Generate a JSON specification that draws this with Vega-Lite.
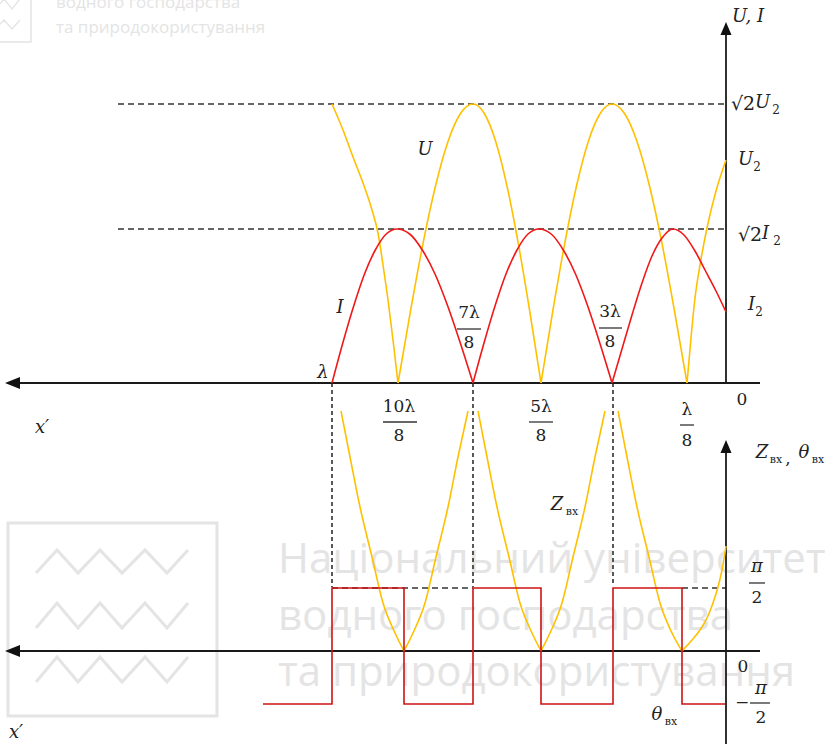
{
  "$schema": "https://vega.github.io/schema/vega-lite/v6.json",
  "autosize": {"type": "none"},
  "padding": 0,
  "width": 829,
  "height": 744,
  "background": "white",
  "config": {"view": {"stroke": null}},
  "resolve": {"scale": {"y": "independent"}},
  "datasets": {
    "voltage": [
      {"seg": "a0", "x": 394, "y": 279}, {"seg": "a0", "x": 383, "y": 253}, {"seg": "a0", "x": 373, "y": 226},
      {"seg": "a0", "x": 363, "y": 200}, {"seg": "a0", "x": 354, "y": 173}, {"seg": "a0", "x": 348, "y": 150},
      {"seg": "a0", "x": 343, "y": 118}, {"seg": "a0", "x": 338, "y": 83}, {"seg": "a0", "x": 333, "y": 43},
      {"seg": "a0", "x": 328, "y": 0},
      {"seg": "a1", "x": 328, "y": 0}, {"seg": "a1", "x": 315.5, "y": 72}, {"seg": "a1", "x": 303, "y": 139.5},
      {"seg": "a1", "x": 290.5, "y": 197}, {"seg": "a1", "x": 278, "y": 241.6}, {"seg": "a1", "x": 265.5, "y": 269.5},
      {"seg": "a1", "x": 253, "y": 279}, {"seg": "a1", "x": 241.7, "y": 269.5}, {"seg": "a1", "x": 230.3, "y": 241.6},
      {"seg": "a1", "x": 219, "y": 197}, {"seg": "a1", "x": 207.7, "y": 139.5}, {"seg": "a1", "x": 196.3, "y": 72},
      {"seg": "a1", "x": 185, "y": 0},
      {"seg": "a2", "x": 185, "y": 0}, {"seg": "a2", "x": 173.2, "y": 72}, {"seg": "a2", "x": 161.3, "y": 139.5},
      {"seg": "a2", "x": 149.5, "y": 197}, {"seg": "a2", "x": 137.7, "y": 241.6}, {"seg": "a2", "x": 125.8, "y": 269.5},
      {"seg": "a2", "x": 114, "y": 279}, {"seg": "a2", "x": 101.5, "y": 269.5}, {"seg": "a2", "x": 89, "y": 241.6},
      {"seg": "a2", "x": 76.5, "y": 197}, {"seg": "a2", "x": 64, "y": 139.5}, {"seg": "a2", "x": 51.5, "y": 72},
      {"seg": "a2", "x": 39, "y": 0},
      {"seg": "a3", "x": 39, "y": 0}, {"seg": "a3", "x": 35, "y": 45}, {"seg": "a3", "x": 31, "y": 85},
      {"seg": "a3", "x": 26, "y": 118}, {"seg": "a3", "x": 19, "y": 155}, {"seg": "a3", "x": 10, "y": 192},
      {"seg": "a3", "x": 0, "y": 223}
    ],
    "current": [
      {"seg": "i1", "x": 394, "y": 0}, {"seg": "i1", "x": 383.2, "y": 40}, {"seg": "i1", "x": 372.3, "y": 77},
      {"seg": "i1", "x": 361.5, "y": 109}, {"seg": "i1", "x": 350.7, "y": 133}, {"seg": "i1", "x": 339.8, "y": 149},
      {"seg": "i1", "x": 329, "y": 154}, {"seg": "i1", "x": 316.3, "y": 149}, {"seg": "i1", "x": 303.7, "y": 133},
      {"seg": "i1", "x": 291, "y": 109}, {"seg": "i1", "x": 278.3, "y": 77}, {"seg": "i1", "x": 265.7, "y": 40},
      {"seg": "i1", "x": 253, "y": 0},
      {"seg": "i2", "x": 253, "y": 0}, {"seg": "i2", "x": 242, "y": 40}, {"seg": "i2", "x": 231, "y": 77},
      {"seg": "i2", "x": 220, "y": 109}, {"seg": "i2", "x": 209, "y": 133}, {"seg": "i2", "x": 198, "y": 149},
      {"seg": "i2", "x": 187, "y": 154}, {"seg": "i2", "x": 174.8, "y": 149}, {"seg": "i2", "x": 162.7, "y": 133},
      {"seg": "i2", "x": 150.5, "y": 109}, {"seg": "i2", "x": 138.3, "y": 77}, {"seg": "i2", "x": 126.2, "y": 40},
      {"seg": "i2", "x": 114, "y": 0},
      {"seg": "i3", "x": 114, "y": 0}, {"seg": "i3", "x": 104, "y": 34}, {"seg": "i3", "x": 94, "y": 68},
      {"seg": "i3", "x": 84, "y": 100}, {"seg": "i3", "x": 74, "y": 127}, {"seg": "i3", "x": 64, "y": 145},
      {"seg": "i3", "x": 53, "y": 154}, {"seg": "i3", "x": 42, "y": 148}, {"seg": "i3", "x": 31, "y": 132},
      {"seg": "i3", "x": 21, "y": 113}, {"seg": "i3", "x": 10, "y": 92}, {"seg": "i3", "x": 0, "y": 71}
    ],
    "impedance": [
      {"seg": "z1l", "x": 385, "y": 240}, {"seg": "z1l", "x": 376, "y": 194}, {"seg": "z1l", "x": 366, "y": 144},
      {"seg": "z1l", "x": 354, "y": 94}, {"seg": "z1l", "x": 343, "y": 48}, {"seg": "z1l", "x": 331, "y": 18},
      {"seg": "z1l", "x": 322, "y": 0},
      {"seg": "z1r", "x": 322, "y": 0}, {"seg": "z1r", "x": 313, "y": 18}, {"seg": "z1r", "x": 301, "y": 48},
      {"seg": "z1r", "x": 290, "y": 94}, {"seg": "z1r", "x": 278, "y": 144}, {"seg": "z1r", "x": 268, "y": 194},
      {"seg": "z1r", "x": 258, "y": 240},
      {"seg": "z2l", "x": 248, "y": 240}, {"seg": "z2l", "x": 239, "y": 194}, {"seg": "z2l", "x": 229, "y": 144},
      {"seg": "z2l", "x": 217, "y": 94}, {"seg": "z2l", "x": 206, "y": 48}, {"seg": "z2l", "x": 194, "y": 18},
      {"seg": "z2l", "x": 185, "y": 0},
      {"seg": "z2r", "x": 185, "y": 0}, {"seg": "z2r", "x": 176, "y": 18}, {"seg": "z2r", "x": 164, "y": 48},
      {"seg": "z2r", "x": 153, "y": 94}, {"seg": "z2r", "x": 141, "y": 144}, {"seg": "z2r", "x": 131, "y": 194},
      {"seg": "z2r", "x": 121, "y": 240},
      {"seg": "z3l", "x": 108, "y": 240}, {"seg": "z3l", "x": 99, "y": 194}, {"seg": "z3l", "x": 89, "y": 144},
      {"seg": "z3l", "x": 77, "y": 94}, {"seg": "z3l", "x": 66, "y": 48}, {"seg": "z3l", "x": 54, "y": 18},
      {"seg": "z3l", "x": 44, "y": 0},
      {"seg": "z3r", "x": 44, "y": 0}, {"seg": "z3r", "x": 34, "y": 11}, {"seg": "z3r", "x": 26, "y": 21},
      {"seg": "z3r", "x": 19, "y": 33}, {"seg": "z3r", "x": 13, "y": 48}, {"seg": "z3r", "x": 8, "y": 64},
      {"seg": "z3r", "x": 4, "y": 81}, {"seg": "z3r", "x": 0, "y": 105}
    ],
    "phase": [
      {"i": 0, "x": 463, "y": -53}, {"i": 1, "x": 394, "y": -53}, {"i": 2, "x": 394, "y": 63},
      {"i": 3, "x": 322, "y": 63}, {"i": 4, "x": 322, "y": -53}, {"i": 5, "x": 253, "y": -53},
      {"i": 6, "x": 253, "y": 63}, {"i": 7, "x": 185, "y": 63}, {"i": 8, "x": 185, "y": -53},
      {"i": 9, "x": 113, "y": -53}, {"i": 10, "x": 113, "y": 63}, {"i": 11, "x": 44, "y": 63},
      {"i": 12, "x": 44, "y": -53}, {"i": 13, "x": 1, "y": -53}
    ]
  },
  "layer": [
    {
      "encoding": {
        "x": {"field": "x", "type": "quantitative", "scale": {"domain": [-103, 726], "reverse": true, "nice": false, "zero": false}, "axis": null},
        "y": {"field": "y", "type": "quantitative", "scale": {"domain": [-361, 383], "nice": false, "zero": false}, "axis": null}
      },
      "layer": [
        {
          "data": {"values": [{"x": 774, "x2": 695, "y": 414, "y2": 341}]},
          "mark": {"type": "rect", "fill": null, "stroke": "#e4e4e4", "strokeWidth": 1.5},
          "encoding": {"x2": {"field": "x2"}, "y2": {"field": "y2"}}
        },
        {
          "data": {"values": [
            {"row": 2, "i": 0, "x": 763, "y": 374}, {"row": 2, "i": 1, "x": 756, "y": 384}, {"row": 2, "i": 2, "x": 748, "y": 374},
            {"row": 2, "i": 3, "x": 739, "y": 384}, {"row": 2, "i": 4, "x": 731, "y": 374}, {"row": 2, "i": 5, "x": 722, "y": 384},
            {"row": 2, "i": 6, "x": 714, "y": 374}, {"row": 2, "i": 7, "x": 706, "y": 384},
            {"row": 3, "i": 0, "x": 763, "y": 354}, {"row": 3, "i": 1, "x": 756, "y": 363}, {"row": 3, "i": 2, "x": 748, "y": 354},
            {"row": 3, "i": 3, "x": 739, "y": 363}, {"row": 3, "i": 4, "x": 731, "y": 354}, {"row": 3, "i": 5, "x": 722, "y": 363},
            {"row": 3, "i": 6, "x": 714, "y": 354}, {"row": 3, "i": 7, "x": 706, "y": 363}
          ]},
          "mark": {"type": "line", "stroke": "#e4e4e4", "strokeWidth": 1.3},
          "encoding": {"detail": {"field": "row"}, "order": {"field": "i"}}
        },
        {
          "data": {"values": [
            {"x": 670, "y": 375, "t": "водного господарства"},
            {"x": 670, "y": 350, "t": "та природокористування"}
          ]},
          "mark": {"type": "text", "font": "Open Sans", "fontSize": 17, "align": "left", "baseline": "alphabetic", "color": "#e4e4e4"},
          "encoding": {"text": {"field": "t"}}
        },
        {
          "data": {"values": [{"x": 608, "x2": 0, "y": 279}, {"x": 608, "x2": 0, "y": 154}]},
          "mark": {"type": "rule", "color": "#333333", "strokeWidth": 1.5, "strokeDash": [6, 4]},
          "encoding": {"x2": {"field": "x2"}}
        },
        {
          "data": {"values": [{"x": 706, "x2": -34, "y": 0, "y2": 0}, {"x": 0, "x2": 0, "y": 0, "y2": 350}]},
          "mark": {"type": "rule", "color": "#1a1a1a", "strokeWidth": 1.8},
          "encoding": {"x2": {"field": "x2"}, "y2": {"field": "y2"}}
        },
        {
          "data": {"values": [{"x": 713.5, "y": 0}]},
          "mark": {"type": "point", "shape": "M-1,0L1,-0.8L1,0.8Z", "size": 225, "filled": true, "color": "#111111", "opacity": 1}
        },
        {
          "data": {"values": [{"x": 0, "y": 354.5}]},
          "mark": {"type": "point", "shape": "M0,-1L0.85,1L-0.85,1Z", "size": 169, "filled": true, "color": "#111111", "opacity": 1}
        },
        {
          "data": {"name": "voltage"},
          "mark": {"type": "line", "color": "#FFC000", "strokeWidth": 1.6, "interpolate": "monotone"},
          "encoding": {"detail": {"field": "seg"}}
        },
        {
          "data": {"name": "current"},
          "mark": {"type": "line", "color": "#F01818", "strokeWidth": 1.6, "interpolate": "monotone"},
          "encoding": {"detail": {"field": "seg"}}
        },
        {
          "data": {"values": [
            {"x": 343, "x2": 309, "y": -39}, {"x": 269, "x2": 245, "y": 54}, {"x": 197, "x2": 173, "y": -39},
            {"x": 127, "x2": 104, "y": 55}, {"x": 46, "x2": 32, "y": -42}
          ]},
          "mark": {"type": "rule", "color": "#333333", "strokeWidth": 1.3},
          "encoding": {"x2": {"field": "x2"}}
        },
        {
          "data": {"values": [
            {"x": 327, "y": -24, "t": "10λ"}, {"x": 327, "y": -53, "t": "8"},
            {"x": 257, "y": 70, "t": "7λ"}, {"x": 257, "y": 40, "t": "8"},
            {"x": 185, "y": -24, "t": "5λ"}, {"x": 185, "y": -53, "t": "8"},
            {"x": 116, "y": 71, "t": "3λ"}, {"x": 116, "y": 41, "t": "8"},
            {"x": 39, "y": -27, "t": "λ"}, {"x": 39, "y": -58, "t": "8"},
            {"x": -16, "y": -17, "t": "0"}
          ]},
          "mark": {"type": "text", "font": "DejaVu Serif", "fontSize": 17, "align": "center", "baseline": "middle", "color": "#222222"},
          "encoding": {"text": {"field": "t"}}
        },
        {
          "data": {"values": [
            {"x": -5, "y": 279, "t": "√2"},
            {"x": -12, "y": 148, "t": "√2"}
          ]},
          "mark": {"type": "text", "font": "DejaVu Serif", "fontSize": 19, "align": "left", "baseline": "middle", "color": "#222222"},
          "encoding": {"text": {"field": "t"}}
        },
        {
          "data": {"values": [
            {"x": -50, "y": 273, "t": "2"},
            {"x": -31, "y": 216, "t": "2"},
            {"x": -51, "y": 142, "t": "2"},
            {"x": -33, "y": 71, "t": "2"}
          ]},
          "mark": {"type": "text", "font": "DejaVu Serif", "fontSize": 12, "align": "center", "baseline": "middle", "color": "#222222"},
          "encoding": {"text": {"field": "t"}}
        },
        {
          "data": {"values": [
            {"x": -6, "y": 366, "t": "U, I"},
            {"x": -29, "y": 280, "t": "U"},
            {"x": -36, "y": 149, "t": "I"},
            {"x": -12, "y": 223, "t": "U"},
            {"x": -22, "y": 78, "t": "I"}
          ]},
          "mark": {"type": "text", "font": "DejaVu Serif", "fontStyle": "italic", "fontSize": 18, "align": "left", "baseline": "middle", "color": "#222222"},
          "encoding": {"text": {"field": "t"}}
        },
        {
          "data": {"values": [
            {"x": 301, "y": 233, "t": "U"},
            {"x": 386, "y": 75, "t": "I"},
            {"x": 403, "y": 10, "t": "λ"},
            {"x": 684, "y": -45, "t": "x′"}
          ]},
          "mark": {"type": "text", "font": "DejaVu Serif", "fontStyle": "italic", "fontSize": 18, "align": "center", "baseline": "middle", "color": "#222222"},
          "encoding": {"text": {"field": "t"}}
        }
      ]
    },
    {
      "encoding": {
        "x": {"field": "x", "type": "quantitative", "scale": {"domain": [-103, 726], "reverse": true, "nice": false, "zero": false}, "axis": null},
        "y": {"field": "y", "type": "quantitative", "scale": {"domain": [-93, 651], "nice": false, "zero": false}, "axis": null}
      },
      "layer": [
        {
          "data": {"values": [{"x": 718, "x2": 509, "y": 128, "y2": -65}]},
          "mark": {"type": "rect", "fill": null, "stroke": "#e4e4e4", "strokeWidth": 3},
          "encoding": {"x2": {"field": "x2"}, "y2": {"field": "y2"}}
        },
        {
          "data": {"values": [
            {"row": 1, "i": 0, "x": 690, "y": 78}, {"row": 1, "i": 1, "x": 669, "y": 101}, {"row": 1, "i": 2, "x": 648, "y": 78},
            {"row": 1, "i": 3, "x": 626, "y": 101}, {"row": 1, "i": 4, "x": 604, "y": 78}, {"row": 1, "i": 5, "x": 581, "y": 101},
            {"row": 1, "i": 6, "x": 559, "y": 78}, {"row": 1, "i": 7, "x": 538, "y": 101},
            {"row": 2, "i": 0, "x": 690, "y": 23}, {"row": 2, "i": 1, "x": 669, "y": 48}, {"row": 2, "i": 2, "x": 648, "y": 23},
            {"row": 2, "i": 3, "x": 626, "y": 48}, {"row": 2, "i": 4, "x": 604, "y": 23}, {"row": 2, "i": 5, "x": 581, "y": 48},
            {"row": 2, "i": 6, "x": 559, "y": 23}, {"row": 2, "i": 7, "x": 538, "y": 48},
            {"row": 3, "i": 0, "x": 690, "y": -31}, {"row": 3, "i": 1, "x": 669, "y": -6}, {"row": 3, "i": 2, "x": 648, "y": -31},
            {"row": 3, "i": 3, "x": 626, "y": -6}, {"row": 3, "i": 4, "x": 604, "y": -31}, {"row": 3, "i": 5, "x": 581, "y": -6},
            {"row": 3, "i": 6, "x": 559, "y": -31}, {"row": 3, "i": 7, "x": 538, "y": -6}
          ]},
          "mark": {"type": "line", "stroke": "#e4e4e4", "strokeWidth": 3},
          "encoding": {"detail": {"field": "row"}, "order": {"field": "i"}}
        },
        {
          "data": {"values": [
            {"x": 448, "y": 78, "t": "Національний університет"},
            {"x": 448, "y": 21, "t": "водного господарства"},
            {"x": 448, "y": -35, "t": "та природокористування"}
          ]},
          "mark": {"type": "text", "font": "Open Sans", "fontSize": 42, "align": "left", "baseline": "alphabetic", "color": "#e4e4e4"},
          "encoding": {"text": {"field": "t"}}
        },
        {
          "data": {"values": [
            {"x": 394, "y": 268, "y2": 64}, {"x": 253, "y": 268, "y2": 64}, {"x": 113, "y": 268, "y2": 68}
          ]},
          "mark": {"type": "rule", "color": "#222222", "strokeWidth": 1.5, "strokeDash": [4, 3]},
          "encoding": {"y2": {"field": "y2"}}
        },
        {
          "data": {"values": [{"x": 394, "x2": 253, "y": 63}, {"x": 44, "x2": 0, "y": 63}]},
          "mark": {"type": "rule", "color": "#333333", "strokeWidth": 1.5, "strokeDash": [6, 4]},
          "encoding": {"x2": {"field": "x2"}}
        },
        {
          "data": {"values": [{"x": 706, "x2": -34, "y": 0, "y2": 0}, {"x": 0, "x2": 0, "y": -100, "y2": 200}]},
          "mark": {"type": "rule", "color": "#1a1a1a", "strokeWidth": 1.8},
          "encoding": {"x2": {"field": "x2"}, "y2": {"field": "y2"}}
        },
        {
          "data": {"values": [{"x": 713.5, "y": 0}]},
          "mark": {"type": "point", "shape": "M-1,0L1,-0.8L1,0.8Z", "size": 225, "filled": true, "color": "#111111", "opacity": 1}
        },
        {
          "data": {"values": [{"x": 0, "y": 204.5}]},
          "mark": {"type": "point", "shape": "M0,-1L0.85,1L-0.85,1Z", "size": 169, "filled": true, "color": "#111111", "opacity": 1}
        },
        {
          "data": {"name": "impedance"},
          "mark": {"type": "line", "color": "#FFC000", "strokeWidth": 1.6, "interpolate": "monotone"},
          "encoding": {"detail": {"field": "seg"}}
        },
        {
          "data": {"name": "phase"},
          "mark": {"type": "line", "color": "#CC1414", "strokeWidth": 1.6},
          "encoding": {"order": {"field": "i"}}
        },
        {
          "data": {"values": [{"x": -23, "x2": -39, "y": 68}, {"x": -24, "x2": -44, "y": -52}]},
          "mark": {"type": "rule", "color": "#333333", "strokeWidth": 1.3},
          "encoding": {"x2": {"field": "x2"}}
        },
        {
          "data": {"values": [
            {"x": -31, "y": 53, "t": "2"},
            {"x": -17, "y": -16, "t": "0"},
            {"x": -16, "y": -52, "t": "−"},
            {"x": -35, "y": -67, "t": "2"},
            {"x": -62, "y": 192, "t": ","}
          ]},
          "mark": {"type": "text", "font": "DejaVu Serif", "fontSize": 17, "align": "center", "baseline": "middle", "color": "#222222"},
          "encoding": {"text": {"field": "t"}}
        },
        {
          "data": {"values": [
            {"x": -31, "y": 84, "t": "π"},
            {"x": -35, "y": -38, "t": "π"},
            {"x": 169, "y": 146, "t": "Z"},
            {"x": 69, "y": -64, "t": "θ"},
            {"x": -36, "y": 198, "t": "Z"},
            {"x": -78, "y": 198, "t": "θ"},
            {"x": 710, "y": -82, "t": "x′"}
          ]},
          "mark": {"type": "text", "font": "DejaVu Serif", "fontStyle": "italic", "fontSize": 18, "align": "center", "baseline": "middle", "color": "#222222"},
          "encoding": {"text": {"field": "t"}}
        },
        {
          "data": {"values": [
            {"x": 154, "y": 139, "t": "вх"},
            {"x": 55, "y": -71, "t": "вх"},
            {"x": -50, "y": 191, "t": "вх"},
            {"x": -92, "y": 191, "t": "вх"}
          ]},
          "mark": {"type": "text", "font": "DejaVu Serif", "fontSize": 11, "align": "center", "baseline": "middle", "color": "#222222"},
          "encoding": {"text": {"field": "t"}}
        }
      ]
    }
  ]
}
